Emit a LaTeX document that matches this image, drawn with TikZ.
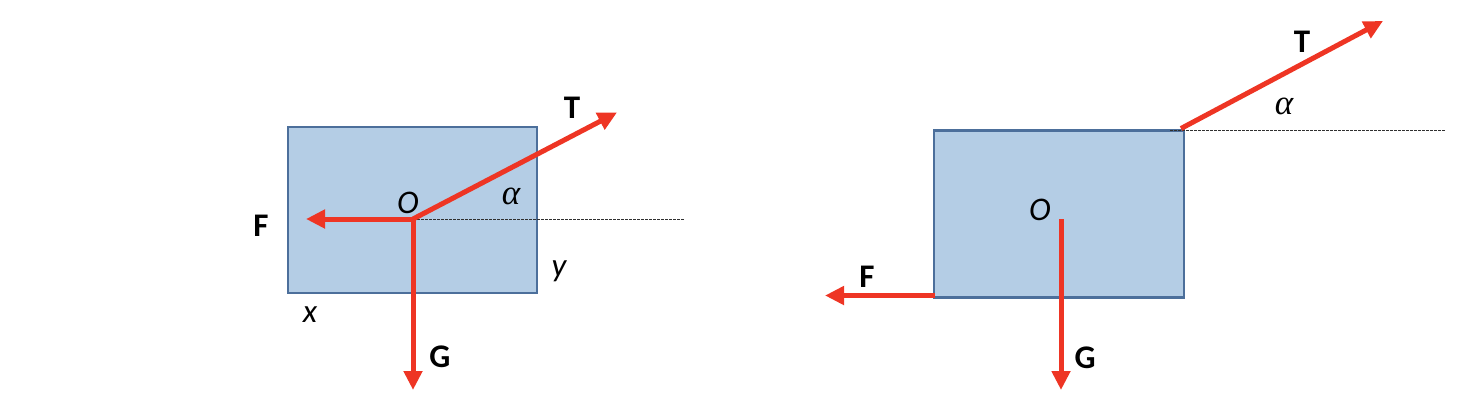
\documentclass[tikz,border=0pt]{standalone}
\usepackage{fontspec}
\setmainfont{Carlito}
\newfontfamily\greekfont{Liberation Serif}
\usetikzlibrary{arrows.meta}
\definecolor{fred}{HTML}{EE3524}
\definecolor{bfill}{HTML}{B4CDE5}
\definecolor{bdraw}{HTML}{4C6F9B}
\definecolor{dgray}{HTML}{303030}
\tikzset{
  force/.style={draw=fred, line width=5pt, -{Triangle[length=19pt,width=18pt]}},
  block/.style={draw=bdraw, fill=bfill, line width=2.8pt, inner sep=0pt},
  guide/.style={draw=dgray, line width=1pt, dash pattern=on 2.5pt off 1.5pt},
  flabel/.style={font=\fontsize{33}{40}\selectfont\bfseries, inner sep=0pt},
  ilabel/.style={font=\fontsize{33}{40}\selectfont\itshape, inner sep=0pt},
  alabel/.style={font=\fontsize{35}{42}\selectfont\greekfont\itshape, inner sep=0pt}
}
\begin{document}
\begin{tikzpicture}[x=1pt,y=-1pt]
\useasboundingbox (0,0) rectangle (1474,408);
% ---------- left diagram ----------
\node[block, minimum width=249pt, minimum height=166pt] (boxL) at (412.5,210) {};
\coordinate (oL) at (413,219);
\coordinate (dashL) at (685,219);
\coordinate (fL) at (306,219);
\coordinate (gL) at (413,390);
\coordinate (tL) at (617,112.5);
\draw[guide] (oL) -- (dashL);
\draw[force] (oL) -- (fL);
\draw[force] (oL) -- (gL);
\draw[force] (oL) -- (tL);
\node[flabel] (TL) at (572,108) {T};
\node[flabel] (FL) at (261,226) {F};
\node[flabel] (GL) at (440,357) {G};
\node[ilabel] (OL) at (408,203) {O};
\node[alabel] (aL) at (511,196) {α};
\node[ilabel] (yL) at (559,271) {y};
\node[ilabel] (xL) at (310,315) {x};
% ---------- right diagram ----------
\node[block, minimum width=250pt, minimum height=166.5pt] (boxR) at (1059,214) {};
\coordinate (oR) at (1061,219);
\coordinate (cR) at (1181,128.5);
\coordinate (dsR) at (1170,130.5);
\coordinate (deR) at (1445,130.5);
\coordinate (bl) at (935,295.5);
\coordinate (fR) at (825,295.5);
\coordinate (gR) at (1061,390);
\coordinate (tR) at (1383,21);
\draw[guide] (dsR) -- (deR);
\draw[force] (cR) -- (tR);
\draw[force] (bl) -- (fR);
\draw[force] (oR) -- (gR);
\node[flabel] (TR) at (1302,42) {T};
\node[flabel] (FR) at (867,277) {F};
\node[flabel] (GR) at (1085,358) {G};
\node[ilabel] (OR) at (1040,210) {O};
\node[alabel] (aR) at (1284,106) {α};
\end{tikzpicture}
\end{document}
